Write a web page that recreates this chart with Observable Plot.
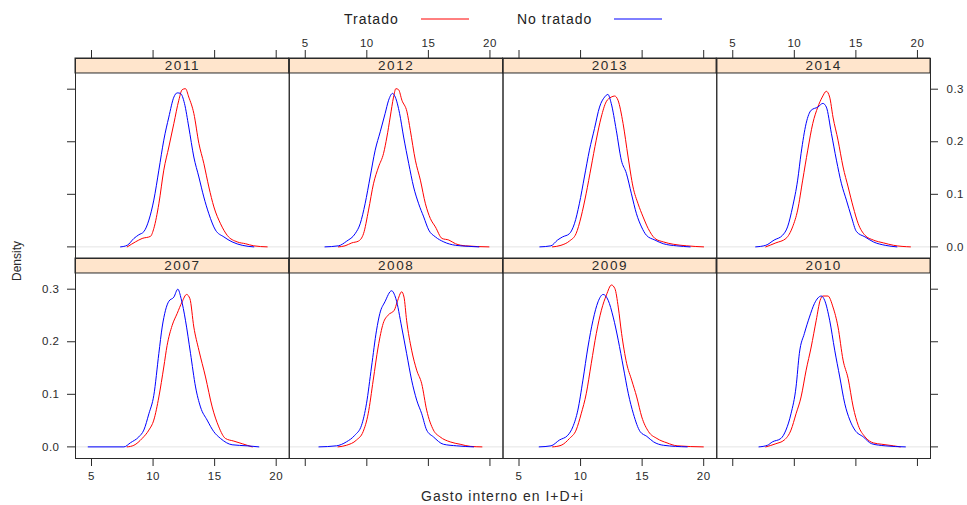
<!DOCTYPE html>
<html>
<head>
<meta charset="utf-8">
<script src="https://cdn.jsdelivr.net/npm/d3@7"></script>
<script src="https://cdn.jsdelivr.net/npm/@observablehq/plot@0.6"></script>
<style>
  body { margin: 0; background: #fff; font-family: "Liberation Sans", Arial, sans-serif; color: #222; }
  #legend { position: relative; width: 967px; height: 36px; }
  #legend .lab { position: absolute; top: 11px; font-size: 14px; line-height: 16px; letter-spacing: 1px; white-space: nowrap; }
  #legend svg.sw { position: absolute; top: 15px; }
  #chart { width: 967px; height: 469px; }
</style>
</head>
<body>
<div id="legend"></div>
<div id="chart"></div>
<script>
// ---------------- data ----------------
const seriesNames = ["Tratado", "No tratado"];
const seriesColors = ["#ff0000", "#0000ff"];
const panelYears = ["2011", "2012", "2013", "2014", "2007", "2008", "2009", "2010"]; // top row, then bottom row
const xTickValues = [5, 10, 15, 20];
const yTickValues = [0, 0.1, 0.2, 0.3];
const xLabel = "Gasto interno en I+D+i";
const yLabel = "Density";

// density curves: [x, density]
const tratado2007 = [[7.9,0],[8.44,0.003],[9.11,0.016],[9.66,0.032],[10.06,0.051],[10.47,0.095],[10.87,0.152],[11.14,0.193],[11.55,0.231],[11.96,0.254],[12.36,0.276],[12.72,0.29],[12.99,0.282],[13.31,0.228],[13.72,0.184],[14.26,0.133],[14.8,0.076],[15.34,0.038],[15.88,0.016],[16.56,0.011],[17.24,0.006],[18.05,0]];
const noTratado2007 = [[4.73,0],[7.63,0],[8.17,0.008],[8.84,0.019],[9.25,0.032],[9.66,0.063],[10.06,0.098],[10.47,0.178],[10.74,0.228],[11.01,0.26],[11.28,0.277],[11.69,0.285],[12.01,0.3],[12.28,0.282],[12.63,0.241],[13.04,0.178],[13.45,0.114],[13.85,0.076],[14.39,0.051],[14.93,0.029],[15.48,0.016],[16.42,0.004],[17.64,0.002],[18.59,0]];
const tratado2008 = [[7.66,0],[8.34,0.003],[9.16,0.013],[9.7,0.029],[10.11,0.063],[10.52,0.127],[10.92,0.19],[11.33,0.235],[11.74,0.251],[12.23,0.26],[12.47,0.276],[12.83,0.295],[13.02,0.285],[13.23,0.241],[13.64,0.184],[14.05,0.146],[14.46,0.12],[14.86,0.07],[15.41,0.032],[15.95,0.019],[16.77,0.0095],[17.58,0.005],[18.4,0.001],[19.35,0]];
const noTratado2008 = [[6.11,0],[7.53,0.002],[8.34,0.0095],[9.02,0.022],[9.57,0.041],[9.97,0.082],[10.38,0.152],[10.79,0.222],[11.06,0.254],[11.47,0.276],[12.01,0.297],[12.36,0.282],[12.83,0.228],[13.23,0.178],[13.64,0.127],[14.05,0.089],[14.46,0.063],[14.86,0.032],[15.41,0.019],[16.22,0.005],[17.3,0.002],[18.67,0]];
const tratado2009 = [[7.73,0],[8.42,0.003],[9.1,0.016],[9.64,0.032],[10.05,0.063],[10.46,0.101],[10.87,0.159],[11.28,0.216],[11.69,0.26],[12.1,0.289],[12.51,0.308],[12.79,0.301],[13.06,0.266],[13.33,0.216],[13.74,0.159],[14.15,0.127],[14.56,0.095],[14.97,0.057],[15.52,0.029],[16.2,0.016],[17.02,0.0076],[17.84,0.002],[19.97,0]];
const noTratado2009 = [[6.64,0],[7.6,0.002],[8.28,0.013],[8.96,0.022],[9.37,0.038],[9.78,0.07],[10.19,0.127],[10.6,0.19],[11.01,0.241],[11.42,0.276],[11.83,0.29],[12.24,0.279],[12.65,0.247],[13.06,0.203],[13.47,0.152],[13.88,0.101],[14.29,0.063],[14.84,0.029],[15.38,0.02],[15.93,0.0095],[16.75,0.003],[18.66,0]];
const tratado2010 = [[7.68,0],[8.5,0.006],[9.18,0.013],[9.73,0.032],[10.14,0.063],[10.55,0.095],[10.96,0.146],[11.37,0.19],[11.78,0.241],[12.1,0.279],[12.32,0.287],[12.73,0.287],[13.14,0.266],[13.55,0.228],[13.96,0.165],[14.37,0.13],[14.78,0.076],[15.19,0.041],[15.74,0.019],[16.42,0.0076],[17.1,0.005],[18.06,0.002],[18.6,0]];
const noTratado2010 = [[7.13,0],[7.81,0.003],[8.22,0.0095],[8.91,0.016],[9.32,0.032],[9.73,0.063],[10.14,0.114],[10.41,0.178],[10.82,0.216],[11.23,0.247],[11.64,0.273],[12.19,0.287],[12.46,0.279],[12.87,0.241],[13.28,0.184],[13.69,0.133],[14.1,0.082],[14.51,0.051],[14.92,0.032],[15.6,0.019],[16.28,0.006],[17.38,0.002],[19.02,0]];
const tratado2011 = [[7.9,0],[8.57,0.0095],[9.11,0.016],[9.79,0.02],[10.06,0.035],[10.47,0.082],[10.87,0.146],[11.28,0.19],[11.69,0.235],[12.09,0.279],[12.36,0.299],[12.63,0.301],[12.9,0.285],[13.31,0.254],[13.72,0.197],[14.12,0.159],[14.53,0.114],[14.94,0.076],[15.48,0.044],[16.02,0.022],[16.83,0.0095],[17.51,0.006],[18.18,0.002],[19.27,0]];
const noTratado2011 = [[7.36,0],[7.9,0.003],[8.44,0.016],[8.84,0.023],[9.25,0.029],[9.66,0.051],[10.06,0.089],[10.47,0.146],[10.87,0.203],[11.28,0.247],[11.69,0.285],[11.96,0.293],[12.23,0.292],[12.55,0.273],[12.9,0.228],[13.31,0.171],[13.72,0.133],[14.12,0.095],[14.53,0.063],[15.07,0.032],[15.75,0.019],[16.42,0.0095],[17.24,0.003],[18.18,0]];
const tratado2012 = [[7.69,0],[8.23,0.002],[8.78,0.0076],[9.32,0.011],[9.73,0.025],[10.14,0.07],[10.54,0.12],[10.95,0.152],[11.36,0.178],[11.63,0.209],[11.9,0.247],[12.17,0.285],[12.36,0.301],[12.58,0.299],[12.85,0.279],[13.26,0.257],[13.53,0.222],[13.94,0.165],[14.35,0.127],[14.76,0.082],[15.16,0.054],[15.57,0.038],[16.11,0.016],[16.66,0.013],[17.2,0.006],[18.02,0.002],[19.92,0]];
const noTratado2012 = [[6.6,0],[7.69,0.002],[8.37,0.011],[9.05,0.025],[9.46,0.044],[9.86,0.082],[10.27,0.133],[10.68,0.184],[11.09,0.219],[11.49,0.254],[11.77,0.279],[12.09,0.292],[12.31,0.285],[12.66,0.254],[12.99,0.209],[13.4,0.159],[13.8,0.114],[14.21,0.082],[14.62,0.057],[15.03,0.032],[15.57,0.019],[16.25,0.0095],[17.2,0.003],[18.29,0.001],[19.1,0]];
const tratado2013 = [[7.72,0],[8.41,0.003],[9.09,0.011],[9.63,0.025],[10.04,0.057],[10.45,0.101],[10.86,0.152],[11.27,0.203],[11.68,0.247],[12.08,0.276],[12.49,0.285],[12.77,0.287],[13.04,0.279],[13.45,0.235],[13.86,0.171],[14.26,0.114],[14.67,0.082],[15.08,0.057],[15.49,0.035],[16.04,0.016],[16.72,0.0095],[17.53,0.005],[18.62,0.002],[19.99,0]];
const noTratado2013 = [[6.69,0],[7.59,0.002],[8.13,0.013],[8.54,0.019],[9.09,0.025],[9.5,0.044],[9.9,0.082],[10.31,0.133],[10.72,0.184],[11.13,0.225],[11.54,0.266],[11.95,0.285],[12.22,0.29],[12.49,0.273],[12.9,0.222],[13.31,0.165],[13.72,0.14],[14.13,0.101],[14.54,0.063],[14.95,0.038],[15.35,0.022],[16.04,0.013],[16.72,0.006],[17.81,0.002],[18.9,0]];
const tratado2014 = [[7.68,0],[8.5,0.0076],[9.32,0.016],[9.86,0.038],[10.27,0.07],[10.68,0.127],[11.09,0.184],[11.5,0.235],[11.91,0.266],[12.27,0.285],[12.6,0.296],[12.87,0.285],[13.14,0.247],[13.55,0.203],[13.96,0.152],[14.37,0.114],[14.78,0.076],[15.19,0.044],[15.74,0.022],[16.42,0.013],[17.24,0.0076],[18.06,0.003],[19.43,0]];
const noTratado2014 = [[6.86,0],[7.68,0.003],[8.36,0.013],[9.04,0.022],[9.45,0.038],[9.86,0.076],[10.27,0.127],[10.55,0.178],[10.96,0.235],[11.37,0.26],[11.91,0.266],[12.32,0.273],[12.6,0.266],[13.01,0.216],[13.42,0.165],[13.83,0.12],[14.23,0.089],[14.64,0.057],[15.05,0.029],[15.74,0.019],[16.42,0.0095],[17.38,0.003],[18.33,0]];

const curvesByYear = {
  "2007": [tratado2007, noTratado2007],
  "2008": [tratado2008, noTratado2008],
  "2009": [tratado2009, noTratado2009],
  "2010": [tratado2010, noTratado2010],
  "2011": [tratado2011, noTratado2011],
  "2012": [tratado2012, noTratado2012],
  "2013": [tratado2013, noTratado2013],
  "2014": [tratado2014, noTratado2014]
};

// ---------------- layout ----------------
const X_DOMAIN = [3.70, 21.06];
const Y_DOMAIN = [-0.0221, 0.3584];   // includes strip area at top
const STRIP_BOTTOM = 0.3299;
const INK = "#2a2a2a";

const panels = panelYears.map((year, i) => ({year, col: i % 4, row: Math.floor(i / 4)}));
const lineData = panels.flatMap(p =>
  seriesNames.flatMap((s, k) =>
    curvesByYear[p.year][k].map(([x, y]) => ({x, y, series: s, col: p.col, row: p.row}))));

const xTicks = [];
for (let col = 0; col < 4; col++) for (const v of xTickValues) {
  xTicks.push({v, col, row: 0, label: col % 2 === 1});
  xTicks.push({v, col, row: 1, label: col % 2 === 0});
}
const yTicks = [];
for (let row = 0; row < 2; row++) for (const v of yTickValues) {
  yTicks.push({v, col: 0, row, side: "left", label: row === 1});
  yTicks.push({v, col: 3, row, side: "right", label: row === 0});
}
const fmtY = d3.format(".1f");
const F = {fx: "col", fy: "row"};

const chart = Plot.plot({
  width: 967,
  height: 469,
  marginTop: 22,
  marginBottom: 47,
  marginLeft: 75,
  marginRight: 37,
  style: {fontFamily: "Liberation Sans, Arial, sans-serif", fontSize: "11.5px", color: INK, background: "white"},
  fx: {domain: [0, 1, 2, 3], padding: 0, round: false, axis: null},
  fy: {domain: [0, 1], padding: 0, round: false, axis: null},
  x: {domain: X_DOMAIN, axis: null},
  y: {domain: Y_DOMAIN, axis: null},
  color: {domain: seriesNames, range: seriesColors},
  marks: [
    Plot.ruleY([0], {x1: X_DOMAIN[0], x2: X_DOMAIN[1], stroke: "#e4e4e4", strokeWidth: 1}),
    Plot.line(lineData, {...F, x: "x", y: "y", z: "series", stroke: "series", strokeWidth: 1, curve: "monotone-x"}),
    Plot.rect(panels, {...F, x1: X_DOMAIN[0], x2: X_DOMAIN[1], y1: STRIP_BOTTOM, y2: Y_DOMAIN[1], fill: "#ffe5cc", stroke: INK, strokeWidth: 1}),
    Plot.text(panels, {...F, text: "year", frameAnchor: "top", dy: 7.5, lineAnchor: "middle", fontSize: 13.5, fill: INK, ariaDescription: "strip"}),
    Plot.frame({stroke: INK, strokeWidth: 1}),
    // x ticks (top of top row, bottom of bottom row)
    Plot.ruleX(xTicks.filter(d => d.row === 0), {...F, x: "v", y1: Y_DOMAIN[1], y2: Y_DOMAIN[1], insetTop: -8, stroke: INK}),
    Plot.ruleX(xTicks.filter(d => d.row === 1), {...F, x: "v", y1: Y_DOMAIN[0], y2: Y_DOMAIN[0], insetBottom: -8, stroke: INK}),
    Plot.text(xTicks.filter(d => d.row === 0 && d.label), {...F, x: "v", text: d => String(d.v), frameAnchor: "top", dy: -15, lineAnchor: "middle", fill: INK, ariaDescription: "ticklabel"}),
    Plot.text(xTicks.filter(d => d.row === 1 && d.label), {...F, x: "v", text: d => String(d.v), frameAnchor: "bottom", dy: 18, lineAnchor: "middle", fill: INK, ariaDescription: "ticklabel"}),
    // y ticks (left of first column, right of last column)
    Plot.ruleY(yTicks.filter(d => d.side === "left"), {...F, y: "v", x1: X_DOMAIN[0], x2: X_DOMAIN[0], insetLeft: -8, stroke: INK}),
    Plot.ruleY(yTicks.filter(d => d.side === "right"), {...F, y: "v", x1: X_DOMAIN[1], x2: X_DOMAIN[1], insetRight: -8, stroke: INK}),
    Plot.text(yTicks.filter(d => d.side === "left" && d.label), {...F, y: "v", text: d => fmtY(d.v), frameAnchor: "left", dx: -16, textAnchor: "end", fill: INK, ariaDescription: "ticklabel"}),
    Plot.text(yTicks.filter(d => d.side === "right" && d.label), {...F, y: "v", text: d => fmtY(d.v), frameAnchor: "right", dx: 16, textAnchor: "start", fill: INK, ariaDescription: "ticklabel"})
  ]
});

const svg = d3.select(chart);
svg.selectAll('g[aria-description="strip"] text').style("letter-spacing", "1.5px");
svg.selectAll('g[aria-description="ticklabel"] text').style("letter-spacing", "0.5px");

// axis titles
svg.append("text")
  .attr("x", 502.5).attr("y", 461)
  .attr("text-anchor", "middle").attr("dominant-baseline", "middle")
  .attr("fill", INK).style("font-size", "14px").style("letter-spacing", "1px")
  .text(xLabel);
svg.append("text")
  .attr("transform", "translate(18,225) rotate(-90)")
  .attr("text-anchor", "middle").attr("dominant-baseline", "middle")
  .attr("fill", INK).style("font-size", "12px")
  .text(yLabel);

document.getElementById("chart").appendChild(chart);

// legend (above the SVG)
const legend = d3.select("#legend");
const legendPos = [{text: 344, line: 421}, {text: 517, line: 614}];
seriesNames.forEach((name, i) => {
  legend.append("span").attr("class", "lab").style("left", legendPos[i].text + "px").text(name);
  const sw = legend.append("svg").attr("class", "sw").attr("width", 50).attr("height", 8)
    .style("left", legendPos[i].line + "px");
  sw.append("line").attr("x1", 0).attr("x2", 48).attr("y1", 4).attr("y2", 4)
    .attr("stroke", seriesColors[i]).attr("stroke-width", 1);
});
</script>
</body>
</html>
